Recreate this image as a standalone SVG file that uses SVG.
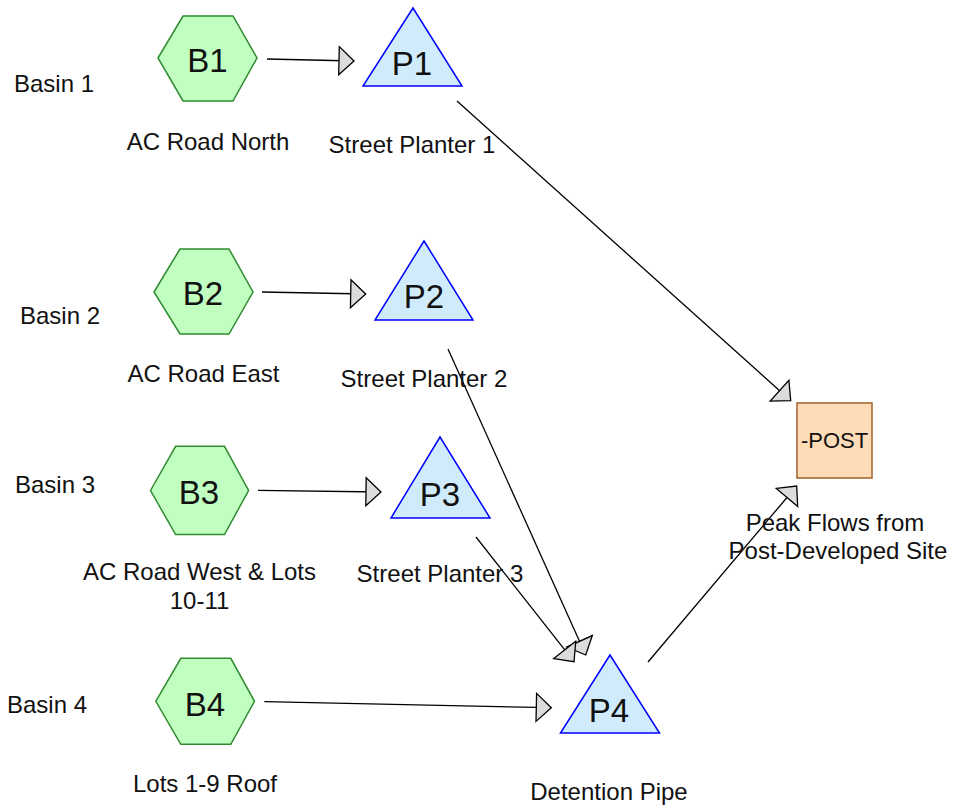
<svg xmlns="http://www.w3.org/2000/svg" width="964" height="807" viewBox="0 0 964 807">
<defs>
<style>
.hex{fill:#c0ffc0;stroke:#2e8b2e;stroke-width:1.5}
.tri{fill:#d0ecfc;stroke:#0000ff;stroke-width:1.5}
.post{fill:#ffdcb8;stroke:#a0622d;stroke-width:1.5}
.nt{font-family:"Liberation Sans",Arial,sans-serif;font-size:33px;fill:#111;text-anchor:middle}
.lb{font-family:"Liberation Sans",Arial,sans-serif;font-size:24px;fill:#111;text-anchor:middle}
.lbl{font-family:"Liberation Sans",Arial,sans-serif;font-size:24px;fill:#111}
.edge{fill:none;stroke:#000;stroke-width:1.3;marker-end:url(#ah)}
</style>
<marker id="ah" markerUnits="userSpaceOnUse" markerWidth="20" markerHeight="32" refX="15" refY="15" orient="auto" overflow="visible">
<path d="M0,1 L15,15 L0,29 Z" fill="#dcdcdc" stroke="#000" stroke-width="1.3" stroke-linejoin="miter"/>
</marker>
</defs>
<rect width="964" height="807" fill="#fff"/>

<g id="connectors">
<path class="edge" d="M267,59 L354,61"/>
<path class="edge" d="M262,292 L365.7,294"/>
<path class="edge" d="M258,490.4 L381,492"/>
<path class="edge" d="M264.3,701.7 L551.3,707.7"/>
<path class="edge" d="M457,101 L790.7,400.7"/>
<path class="edge" d="M448,349 L585.7,655"/>
<path class="edge" d="M476,537 L574,661.7"/>
<path class="edge" d="M648,662 L796.7,486"/>
</g>

<g id="B1">
<polygon class="hex" points="158,58 183,16 233,16 257,58 233,101 183,101"/>
<text class="nt" x="207.5" y="71.5">B1</text>
<text class="lb" x="208" y="150">AC Road North</text>
</g>
<g id="B2">
<polygon class="hex" points="154,292 180,249 229,249 253,292 229,334 180,334"/>
<text class="nt" x="203" y="305">B2</text>
<text class="lb" x="203.5" y="382">AC Road East</text>
</g>
<g id="B3">
<polygon class="hex" points="150.5,490.5 175.6,446.3 224.5,446.3 248.6,490.5 224.5,534.5 175.6,534.5"/>
<text class="nt" x="199" y="504">B3</text>
<text class="lb" x="199.5" y="580">AC Road West &amp; Lots</text>
<text class="lb" x="199.5" y="609">10-11</text>
</g>
<g id="B4">
<polygon class="hex" points="155.8,701.3 180.8,658.3 230.8,658.3 254.5,701.3 230.8,744.3 180.8,744.3"/>
<text class="nt" x="205" y="716">B4</text>
<text class="lb" x="205" y="792">Lots 1-9 Roof</text>
</g>

<g id="P1">
<polygon class="tri" points="413,8 462,86 363,86"/>
<text class="nt" x="412" y="75">P1</text>
<text class="lb" x="412" y="153">Street Planter 1</text>
</g>
<g id="P2">
<polygon class="tri" points="424,241 473,320 375,320"/>
<text class="nt" x="424" y="308">P2</text>
<text class="lb" x="424" y="387">Street Planter 2</text>
</g>
<g id="P3">
<polygon class="tri" points="440,437 490,518 391,518"/>
<text class="nt" x="440" y="506">P3</text>
<text class="lb" x="440" y="582">Street Planter 3</text>
</g>
<g id="P4">
<polygon class="tri" points="610,655 659.5,733 560.5,733"/>
<text class="nt" x="609" y="721.5">P4</text>
<text class="lb" x="609" y="800">Detention Pipe</text>
</g>

<g id="POST">
<rect class="post" x="797" y="403" width="75" height="75"/>
<text x="834.5" y="448" font-family="'Liberation Sans',Arial,sans-serif" font-size="22" fill="#111" text-anchor="middle">-POST</text>
<text class="lb" x="835" y="531">Peak Flows from</text>
<text class="lb" x="838" y="559">Post-Developed Site</text>
</g>

<g id="basins">
<text class="lbl" x="14" y="92">Basin 1</text>
<text class="lbl" x="20" y="324">Basin 2</text>
<text class="lbl" x="15" y="493">Basin 3</text>
<text class="lbl" x="7" y="713">Basin 4</text>
</g>
</svg>
